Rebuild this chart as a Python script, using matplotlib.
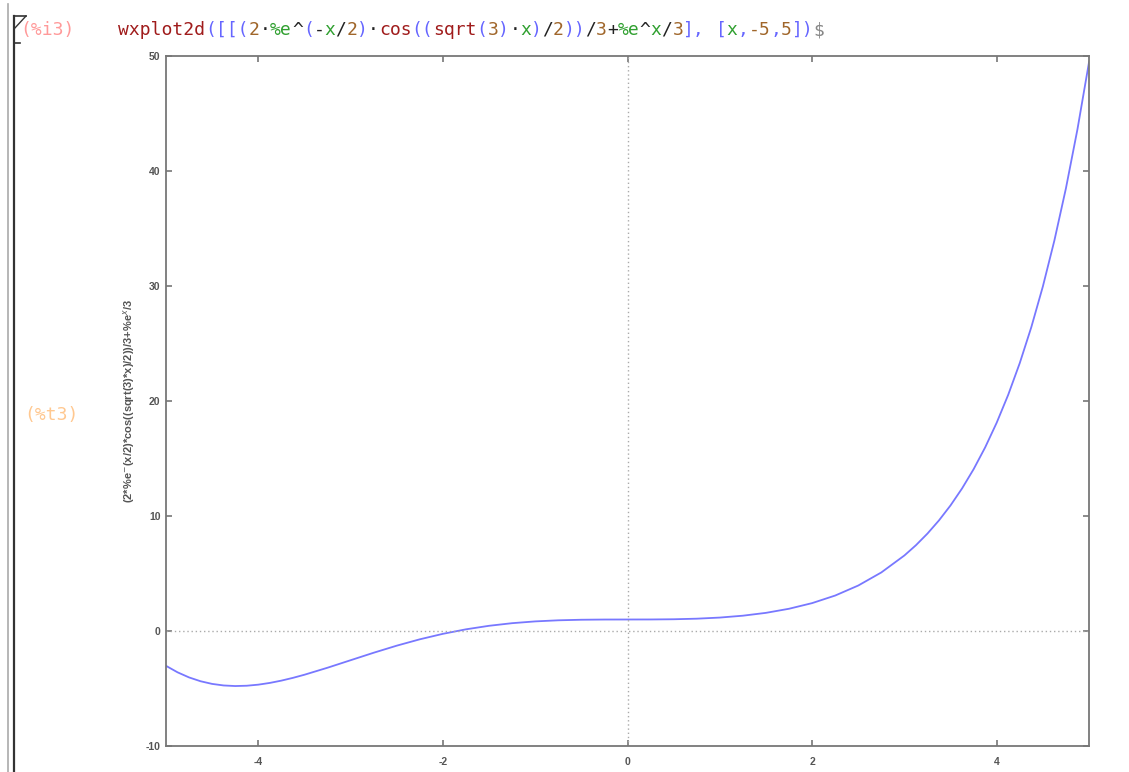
import matplotlib
matplotlib.use("Agg")
import matplotlib.pyplot as plt
from matplotlib.lines import Line2D

plt.rcParams["axes.unicode_minus"] = False

# values (denser where it bends fastest)
x_vals = [-5.0, -4.875, -4.75, -4.625, -4.5, -4.375, -4.25, -4.125, -4.0, -3.875,
          -3.75, -3.625, -3.5, -3.25, -3.0, -2.75,
          -2.5, -2.25, -2.0, -1.75, -1.5, -1.25, -1.0, -0.75, -0.5, -0.25,
          0.0, 0.25, 0.5, 0.75, 1.0, 1.25, 1.5, 1.75, 2.0, 2.25,
          2.5, 2.75, 3.0, 3.125, 3.25, 3.375, 3.5, 3.625, 3.75, 3.875,
          4.0, 4.125, 4.25, 4.375, 4.5, 4.625, 4.75, 4.875, 5.0]
y_vals = [-3.028, -3.592, -4.037, -4.370, -4.601, -4.736, -4.786, -4.759, -4.666, -4.515,
          -4.315, -4.075, -3.803, -3.193, -2.541, -1.890,
          -1.275, -0.722, -0.246, 0.146, 0.453, 0.680, 0.835, 0.930, 0.979, 0.997,
          1.000, 1.003, 1.021, 1.071, 1.168, 1.331, 1.578, 1.934, 2.424, 3.083,
          3.954, 5.092, 6.568, 7.460, 8.473, 9.621, 10.923, 12.400, 14.072, 15.967,
          18.114, 20.546, 23.300, 26.420, 29.955, 33.958, 38.493, 43.631, 49.451]

x_ticks = [-4, -2, 0, 2, 4]
y_ticks = [-10, 0, 10, 20, 30, 40, 50]

# input line pieces with their highlight colours
RED = "#a01c1c"
BLUE = "#6666ff"
NUM = "#a0662a"
GRN = "#30a030"
BLK = "#222222"
cmd_parts = [
    ("wxplot2d", RED), ("([[(", BLUE), ("2", NUM), ("·", BLK), ("%e", GRN), ("^", BLK),
    ("(", BLUE), ("-", BLK), ("x", GRN), ("/", BLK), ("2", NUM), (")", BLUE), ("·", BLK),
    ("cos", RED), ("((", BLUE), ("sqrt", RED), ("(", BLUE), ("3", NUM), (")", BLUE),
    ("·", BLK), ("x", GRN), (")", BLUE), ("/", BLK), ("2", NUM), ("))", BLUE), ("/", BLK),
    ("3", NUM), ("+", BLK), ("%e", GRN), ("^", BLK), ("x", GRN), ("/", BLK), ("3", NUM),
    ("],", BLUE), (" [", BLUE), ("x", GRN), (",", BLUE), ("-5", NUM), (",", BLUE),
    ("5", NUM), ("])", BLUE), ("$", "#888888"),
]

W, H = 1129, 772
fig = plt.figure(figsize=(W / 100, H / 100), dpi=100)

ax = fig.add_axes([166 / W, 1 - 746 / H, (1089 - 166) / W, (746 - 56) / H])
ax.plot(x_vals, y_vals, color="#7878ff", linewidth=1.3)
ax.axhline(0, color="#aaaaaa", linestyle=(0, (1, 2)), linewidth=1)
ax.axvline(0, color="#aaaaaa", linestyle=(0, (1, 2)), linewidth=1)
ax.set_xlim(-5, 5)
ax.set_ylim(-10, 50)
ax.set_xticks(x_ticks)
ax.set_yticks(y_ticks)
for s in ax.spines.values():
    s.set_color("#777777")
    s.set_linewidth(1.3)
ax.tick_params(direction="in", length=4, width=1.2, color="#777777",
               top=True, right=True, labelsize=7.5, labelcolor="#555555")
ax.tick_params(axis="x", pad=8)
ax.tick_params(axis="y", pad=4)
for lab in ax.get_xticklabels() + ax.get_yticklabels():
    lab.set_fontweight("bold")
    lab.set_family("Liberation Sans")
ax.set_ylabel(r"(2*%e$^{-}$(x/2)*cos((sqrt(3)*x)/2))/3+%e$^{x}$/3",
              fontsize=8, color="#555555", fontweight="bold", family="Liberation Sans",
              labelpad=6)

# wxMaxima cell decorations
def fline(xs, ys, color, lw):
    fig.add_artist(Line2D([v / W for v in xs], [1 - v / H for v in ys],
                          color=color, linewidth=lw, transform=fig.transFigure))

fline([8, 8], [4, H], "#aaaaaa", 1.2)
fline([14, 14], [16, H], "#333333", 1.6)
fline([14, 26], [16, 16], "#333333", 1.2)
fline([26, 14], [16, 29], "#333333", 1.0)
fline([14, 20], [43, 43], "#333333", 1.2)

fig.text(20 / W, 1 - 30 / H, "(%i3)", fontsize=13, family="DejaVu Sans Mono",
         color="#ff9a9a", va="center")
fig.text(24 / W, 1 - 415 / H, "(%t3)", fontsize=13, family="DejaVu Sans Mono",
         color="#ffc890", va="center")

char_w = 0.602 * 13 * 100 / 72
pos = 118
for txt, col in cmd_parts:
    fig.text(pos / W, 1 - 30 / H, txt, fontsize=13, family="DejaVu Sans Mono",
             color=col, va="center")
    pos += len(txt) * char_w

fig.savefig("out.png", dpi=100)
